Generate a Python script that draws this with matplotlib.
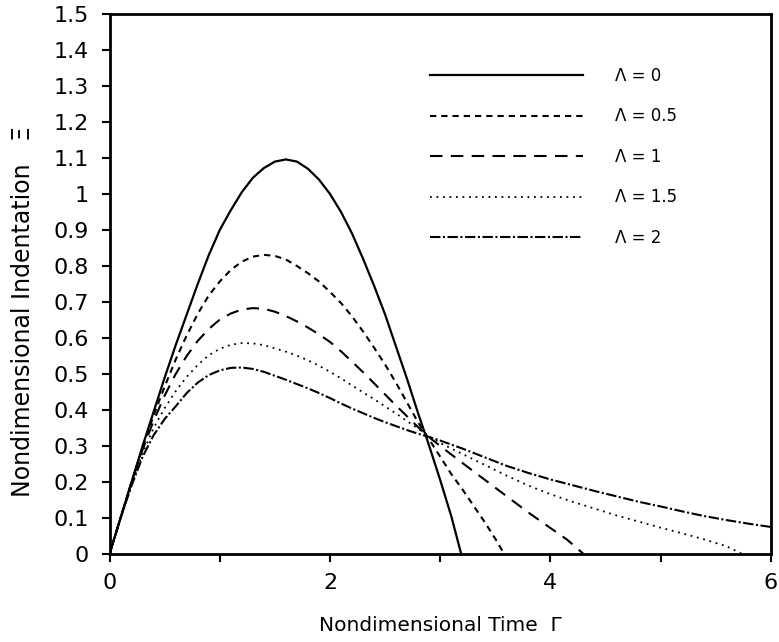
import matplotlib
matplotlib.use('Agg')
import matplotlib.pyplot as plt

# curves (Gamma, Xi) for each Lambda
x_l0 = [0, 0.1, 0.2, 0.3, 0.4, 0.5, 0.6, 0.7, 0.8, 0.9, 1.0, 1.1, 1.2, 1.3, 1.4, 1.5, 1.6,
        1.7, 1.8, 1.9, 2.0, 2.1, 2.2, 2.3, 2.4, 2.5, 2.6, 2.7, 2.8, 2.9, 3.0, 3.1, 3.19]
y_l0 = [0, 0.10, 0.20, 0.30, 0.395, 0.49, 0.58, 0.665, 0.75, 0.83, 0.90, 0.955, 1.005, 1.045,
        1.072, 1.09, 1.096, 1.09, 1.07, 1.04, 1.0, 0.95, 0.89, 0.82, 0.745, 0.665, 0.575,
        0.485, 0.39, 0.30, 0.205, 0.105, 0]

x_l05 = [0, 0.1, 0.2, 0.3, 0.4, 0.5, 0.6, 0.7, 0.8, 0.9, 1.0, 1.1, 1.2, 1.3, 1.4, 1.5, 1.6,
         1.7, 1.8, 1.9, 2.0, 2.1, 2.2, 2.3, 2.4, 2.5, 2.6, 2.7, 2.8, 2.9, 3.0, 3.1, 3.2,
         3.3, 3.4, 3.5, 3.58]
y_l05 = [0, 0.10, 0.20, 0.295, 0.385, 0.465, 0.54, 0.607, 0.667, 0.718, 0.757, 0.789, 0.812,
         0.826, 0.831, 0.828, 0.818, 0.80, 0.78, 0.757, 0.728, 0.697, 0.66, 0.618, 0.573,
         0.526, 0.475, 0.42, 0.365, 0.318, 0.27, 0.222, 0.18, 0.135, 0.09, 0.042, 0]

x_l1 = [0, 0.1, 0.2, 0.3, 0.4, 0.5, 0.6, 0.7, 0.8, 0.9, 1.0, 1.1, 1.2, 1.3, 1.4, 1.5, 1.6,
        1.7, 1.8, 1.9, 2.0, 2.1, 2.2, 2.3, 2.4, 2.5, 2.6, 2.7, 2.8, 2.9, 3.0, 3.2, 3.4,
        3.6, 3.8, 4.0, 4.15, 4.3]
y_l1 = [0, 0.10, 0.20, 0.29, 0.37, 0.44, 0.50, 0.55, 0.592, 0.625, 0.651, 0.668, 0.679,
        0.683, 0.681, 0.673, 0.661, 0.646, 0.629, 0.61, 0.589, 0.563, 0.534, 0.505, 0.474,
        0.443, 0.412, 0.382, 0.352, 0.324, 0.30, 0.253, 0.207, 0.161, 0.115, 0.072, 0.04, 0]

x_l15 = [0, 0.1, 0.2, 0.3, 0.4, 0.5, 0.6, 0.7, 0.8, 0.9, 1.0, 1.1, 1.2, 1.3, 1.4, 1.5, 1.6,
         1.7, 1.8, 1.9, 2.0, 2.1, 2.2, 2.3, 2.4, 2.5, 2.6, 2.7, 2.8, 2.9, 3.0, 3.2, 3.4,
         3.6, 3.8, 4.0, 4.2, 4.4, 4.6, 4.8, 5.0, 5.2, 5.4, 5.6, 5.74]
y_l15 = [0, 0.10, 0.195, 0.28, 0.35, 0.405, 0.452, 0.492, 0.525, 0.552, 0.570, 0.581, 0.586,
         0.585, 0.580, 0.571, 0.562, 0.551, 0.538, 0.523, 0.506, 0.488, 0.468, 0.449, 0.43,
         0.41, 0.39, 0.369, 0.348, 0.326, 0.308, 0.278, 0.248, 0.218, 0.19, 0.166, 0.145,
         0.126, 0.107, 0.09, 0.073, 0.057, 0.04, 0.021, 0]

x_l2 = [0, 0.1, 0.2, 0.3, 0.4, 0.5, 0.6, 0.7, 0.8, 0.9, 1.0, 1.1, 1.2, 1.3, 1.4, 1.5, 1.6,
        1.7, 1.8, 1.9, 2.0, 2.1, 2.2, 2.3, 2.4, 2.5, 2.6, 2.7, 2.8, 2.9, 3.0, 3.2, 3.4,
        3.6, 3.8, 4.0, 4.2, 4.4, 4.6, 4.8, 5.0, 5.2, 5.4, 5.6, 5.8, 6.0]
y_l2 = [0, 0.10, 0.19, 0.27, 0.33, 0.375, 0.41, 0.447, 0.476, 0.497, 0.51, 0.517, 0.518,
        0.514, 0.506, 0.495, 0.484, 0.472, 0.46, 0.447, 0.433, 0.418, 0.404, 0.391, 0.378,
        0.366, 0.355, 0.344, 0.334, 0.325, 0.315, 0.293, 0.269, 0.245, 0.225, 0.207, 0.191,
        0.175, 0.16, 0.145, 0.132, 0.118, 0.105, 0.094, 0.084, 0.075]

labels = ['Λ = 0', 'Λ = 0.5', 'Λ = 1', 'Λ = 1.5', 'Λ = 2']

xticks = [0, 1, 2, 3, 4, 5, 6]
xtick_labels = ['0', '', '2', '', '4', '', '6']
yticks = [0, 0.1, 0.2, 0.3, 0.4, 0.5, 0.6, 0.7, 0.8, 0.9, 1.0, 1.1, 1.2, 1.3, 1.4, 1.5]
ytick_labels = ['0', '0.1', '0.2', '0.3', '0.4', '0.5', '0.6', '0.7', '0.8', '0.9',
                '1', '1.1', '1.2', '1.3', '1.4', '1.5']

fig = plt.figure(figsize=(7.79, 6.42), dpi=100)
ax = fig.add_axes([0.1406, 0.1371, 0.8491, 0.8411])

lw = 1.5
ax.plot(x_l0, y_l0, color='black', lw=1.6, label=labels[0])
ax.plot(x_l05, y_l05, color='black', lw=lw, dashes=(3, 2.4), label=labels[1])
ax.plot(x_l1, y_l1, color='black', lw=lw, dashes=(6, 4), label=labels[2])
ax.plot(x_l15, y_l15, color='black', lw=1.3, dashes=(1, 2.6), label=labels[3])
ax.plot(x_l2, y_l2, color='black', lw=lw, dashes=(5, 1.2, 1, 1.2), label=labels[4])

ax.set_xlim(0, 6)
ax.set_ylim(0, 1.5)
ax.set_xticks(xticks)
ax.set_xticklabels(xtick_labels, fontsize=16)
ax.set_yticks(yticks)
ax.set_yticklabels(ytick_labels, fontsize=16)
ax.tick_params(axis='y', direction='out', length=6, width=1.5, pad=9)
ax.tick_params(axis='x', direction='out', length=6, width=1.5, pad=8)
for s in ax.spines.values():
    s.set_linewidth(2)

ax.set_xlabel('Nondimensional Time  Γ', fontsize=14.5, labelpad=16)
ax.set_ylabel('Nondimensional Indentation   Ξ', fontsize=17)
ax.yaxis.set_label_coords(-0.112, 0.45)

ax.legend(loc='upper left', bbox_to_anchor=(0.4845, 0.902), frameon=False,
          fontsize=12, handlelength=9.2, handletextpad=1.9, labelspacing=1.35,
          borderpad=0, borderaxespad=0)

fig.savefig('out.png', dpi=100)
